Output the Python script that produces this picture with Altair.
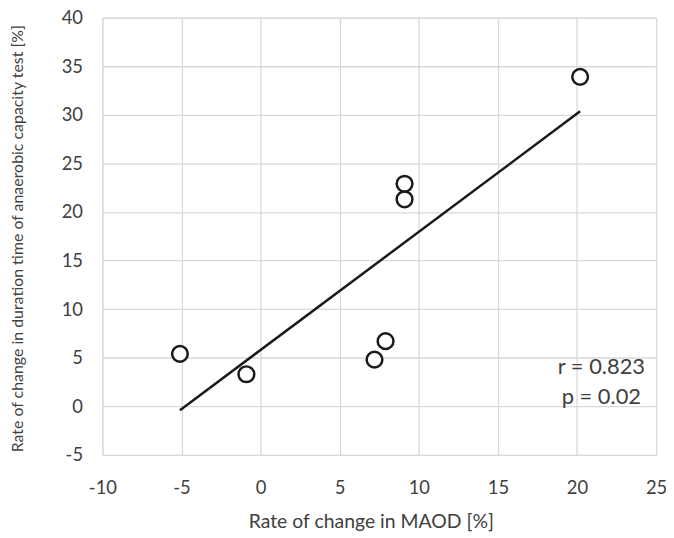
import altair as alt
import pandas as pd

maod = [-5.1, -0.9, 7.2, 7.9, 9.1, 9.1, 20.2]
duration = [5.4, 3.3, 4.8, 6.7, 21.3, 22.9, 33.9]
x_ticks = [-10, -5, 0, 5, 10, 15, 20, 25]
y_ticks = [-5, 0, 5, 10, 15, 20, 25, 30, 35, 40]
x_title = "Rate of change in MAOD [%]"
y_title = "Rate of change in duration time of anaerobic capacity test [%]"
stats_text = ["r = 0.823", "p = 0.02"]

df = pd.DataFrame({"maod": maod, "duration": duration})

FONT = "Lato"
TXT = "#404040"
GRID = "#d9d9d9"

x_enc = alt.X(
    "maod:Q",
    scale=alt.Scale(domain=[-10, 25], nice=False, zero=False),
    axis=alt.Axis(
        values=x_ticks, title=x_title, grid=True, gridColor=GRID, gridWidth=1.3,
        domain=False, ticks=False, labelPadding=24, labelFontSize=18.5,
        labelExpr="'' + datum.value", labelFlush=False, labelOverlap=False,
        labelFont=FONT, labelColor=TXT, titleFont=FONT, titleFontSize=19.5,
        titleFontWeight="normal", titleColor=TXT, titleX=270, titleY=67,
        titleBaseline="middle", titleAlign="center",
    ),
)
y_enc = alt.Y(
    "duration:Q",
    scale=alt.Scale(domain=[-5, 40], nice=False, zero=False),
    axis=alt.Axis(
        values=y_ticks, title=y_title, grid=True, gridColor=GRID, gridWidth=1.3,
        domain=False, ticks=False, labelPadding=20, labelFontSize=18.5,
        labelExpr="'' + datum.value", labelFlush=False, labelOverlap=False,
        labelFont=FONT, labelColor=TXT, titleFont=FONT, titleFontSize=16,
        titleFontWeight="normal", titleColor=TXT, titleX=-85, titleY=222,
        titleBaseline="middle", titleAngle=270,
    ),
)

base = alt.Chart(df)

line = base.transform_regression("maod", "duration").mark_line(
    color="#1a1a1a", strokeWidth=2.5
).encode(x=x_enc, y=y_enc)

points = base.mark_point(
    shape="circle", size=250, filled=True, fill="white", stroke="#1a1a1a",
    strokeWidth=2.5, opacity=1,
).encode(x=x_enc, y=y_enc)

stat_layers = []
for txt, ypix in zip(stats_text, [352, 382]):
    stat_layers.append(
        alt.Chart(pd.DataFrame({"t": [txt]})).mark_text(
            font=FONT, fontSize=22, color=TXT, align="center", baseline="middle"
        ).encode(text="t:N", x=alt.value(502), y=alt.value(ypix))
    )

chart = alt.layer(line, points, *stat_layers).properties(
    width=557, height=440,
    autosize=alt.AutoSizeParams(type="none"),
    padding={"left": 95, "top": 8, "right": 10, "bottom": 82},
).configure_view(stroke=None).configure(background="white")

chart.save("out.html", embed_options={"renderer": "svg", "actions": False})
